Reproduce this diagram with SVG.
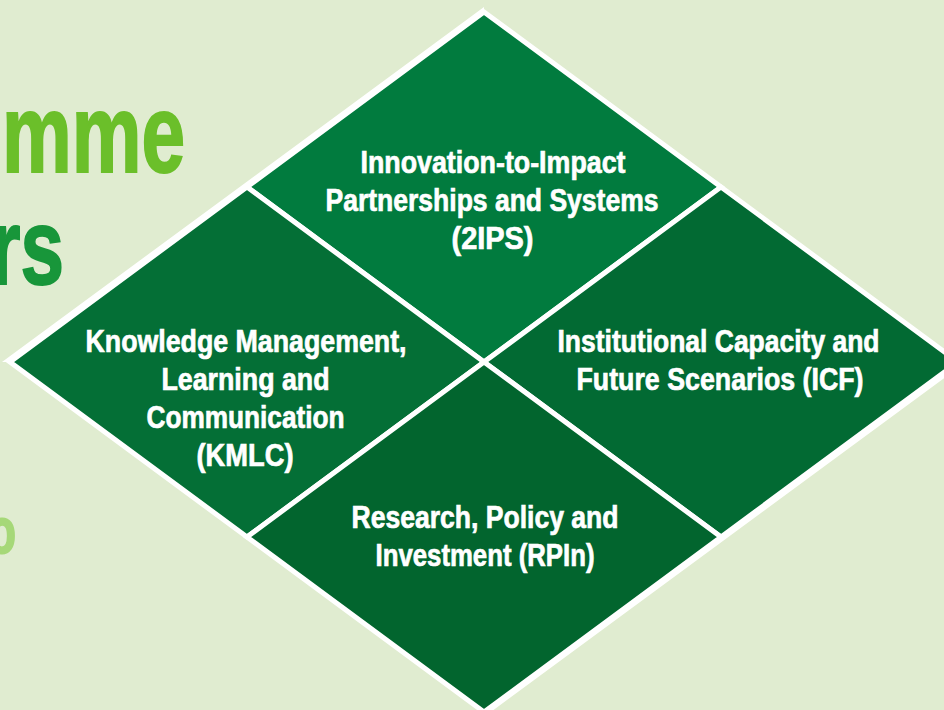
<svg xmlns="http://www.w3.org/2000/svg" width="944" height="710" viewBox="0 0 944 710">
  <style>
    .lbl { font-family: "Liberation Sans", Arial, sans-serif; font-weight: bold; font-size: 31px; fill: #ffffff; stroke: #ffffff; stroke-width: 0.7px; text-anchor: middle; }
    .big { font-family: "Liberation Sans", Arial, sans-serif; font-weight: bold; stroke-width: 2px; }
    .quad { stroke: #ffffff; stroke-width: 5; stroke-linejoin: miter; }
  </style>
  <rect x="0" y="0" width="944" height="710" fill="#e0ecd0"/>
  <g id="background-text">
    <text class="big" x="2" y="172" font-size="112" fill="#6bbf2a" stroke="#6bbf2a" textLength="183" lengthAdjust="spacingAndGlyphs">mme</text>
    <text class="big" x="-10" y="284" font-size="108" fill="#18963a" stroke="#18963a" textLength="74" lengthAdjust="spacingAndGlyphs">rs</text>
    <text class="big" x="-12" y="553" font-size="64" fill="#a6d878" stroke="#a6d878" textLength="28" lengthAdjust="spacingAndGlyphs">o</text>
  </g>
  <polygon points="484,7 2,362 966,362 484,717" fill="#ffffff"/>
  <g id="node-2ips">
    <polygon class="quad" points="484,12 721,187 484,362 247,187" fill="#017b3e"/>
    <text class="lbl" x="493" y="173" textLength="265" lengthAdjust="spacingAndGlyphs">Innovation-to-Impact</text>
    <text class="lbl" x="492" y="211" textLength="333" lengthAdjust="spacingAndGlyphs">Partnerships and Systems</text>
    <text class="lbl" x="492.5" y="249" textLength="82" lengthAdjust="spacingAndGlyphs">(2IPS)</text>
  </g>
  <g id="node-kmlc">
    <polygon class="quad" points="10,362 247,187 484,362 247,537" fill="#046f36"/>
    <text class="lbl" x="246" y="352" textLength="321" lengthAdjust="spacingAndGlyphs">Knowledge Management,</text>
    <text class="lbl" x="245.5" y="390" textLength="168" lengthAdjust="spacingAndGlyphs">Learning and</text>
    <text class="lbl" x="245.5" y="428" textLength="198" lengthAdjust="spacingAndGlyphs">Communication</text>
    <text class="lbl" x="245" y="466" textLength="97" lengthAdjust="spacingAndGlyphs">(KMLC)</text>
  </g>
  <g id="node-icf">
    <polygon class="quad" points="484,362 721,187 958,362 721,537" fill="#026a33"/>
    <text class="lbl" x="718.5" y="352" textLength="322" lengthAdjust="spacingAndGlyphs">Institutional Capacity and</text>
    <text class="lbl" x="720" y="390" textLength="287" lengthAdjust="spacingAndGlyphs">Future Scenarios (ICF)</text>
  </g>
  <g id="node-rpin">
    <polygon class="quad" points="247,537 484,362 721,537 484,712" fill="#02652e"/>
    <text class="lbl" x="485" y="528" textLength="267" lengthAdjust="spacingAndGlyphs">Research, Policy and</text>
    <text class="lbl" x="485" y="566" textLength="219" lengthAdjust="spacingAndGlyphs">Investment (RPIn)</text>
  </g>
  <g id="connectors"></g>
</svg>
